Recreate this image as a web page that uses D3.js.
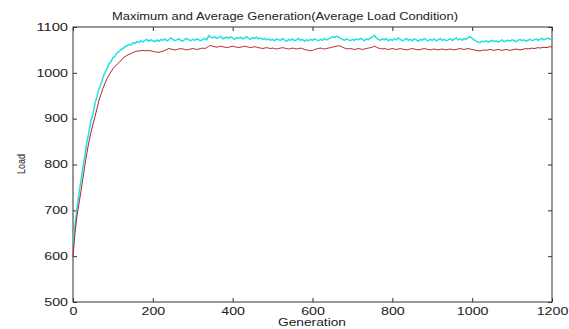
<!DOCTYPE html>
<html><head><meta charset="utf-8">
<script src="https://cdn.jsdelivr.net/npm/d3@7"></script>
<style>
html,body{margin:0;padding:0;background:#fff;}
svg{display:block;}
text{font-family:"Liberation Sans",Arial,sans-serif;fill:#222;}
</style></head>
<body>
<svg id="chart" width="569" height="329"></svg>
<script>
// ---- data (generation step 5, 0..1200) ----
const genStep = 5;
const title = "Maximum and Average Generation(Average Load Condition)";
const xLabel = "Generation";
const yLabel = "Load";
const xTicks = [0, 200, 400, 600, 800, 1000, 1200];
const yTicks = [500, 600, 700, 800, 900, 1000, 1100];

const maxLoad = [
625,668,705,738,765,796,820,850,871,896,
910,933,948,965,975,990,1001,1008,1020,1024,
1033,1036,1043,1046,1051,1053,1057,1059,1062,1060,
1066,1064,1068,1066,1070,1067,1071,1073,1069,1072,
1070,1068,1072,1069,1073,1071,1074,1070,1072,1076,
1073,1070,1072,1074,1071,1069,1073,1075,1072,1070,
1073,1071,1074,1072,1070,1073,1075,1072,1081,1078,
1076,1079,1075,1077,1080,1074,1076,1078,1075,1079,
1076,1073,1077,1075,1078,1074,1076,1079,1075,1073,
1077,1075,1078,1074,1076,1073,1075,1072,1074,1071,
1073,1070,1074,1072,1071,1075,1072,1069,1073,1071,
1074,1070,1072,1075,1071,1073,1069,1072,1070,1073,
1071,1074,1072,1070,1073,1071,1075,1072,1074,1076,
1079,1077,1080,1078,1075,1073,1071,1074,1072,1070,
1073,1071,1074,1072,1075,1073,1070,1074,1072,1076,
1078,1082,1076,1073,1071,1074,1072,1075,1070,1073,
1071,1074,1072,1076,1073,1070,1072,1075,1071,1073,
1070,1074,1072,1069,1073,1071,1075,1072,1070,1073,
1071,1074,1070,1072,1075,1071,1073,1070,1072,1074,
1071,1073,1076,1072,1074,1071,1075,1073,1077,1079,
1075,1072,1069,1067,1066,1069,1068,1070,1067,1069,
1071,1068,1070,1067,1069,1072,1068,1070,1071,1069,
1072,1070,1068,1071,1073,1070,1072,1069,1071,1073,
1070,1072,1074,1071,1073,1075,1072,1074,1076,1073,
1075];

const avgLoad = [
598,650,688,715,742,770,800,826,850,870,
888,904,922,940,953,966,977,987,995,1002,
1009,1014,1018,1022,1027,1032,1035,1038,1040,1042,
1044,1046,1047,1048,1048,1049,1048,1049,1048,1048,
1047,1046,1045,1045,1046,1047,1049,1051,1053,1052,
1051,1050,1051,1052,1053,1052,1051,1050,1051,1052,
1053,1052,1051,1052,1053,1054,1053,1055,1058,1060,
1058,1057,1056,1057,1058,1057,1056,1055,1056,1057,
1058,1057,1056,1055,1056,1057,1058,1057,1056,1055,
1056,1057,1056,1055,1054,1053,1054,1055,1054,1053,
1054,1053,1052,1053,1054,1055,1054,1053,1052,1053,
1054,1053,1052,1053,1054,1053,1051,1050,1049,1048,
1049,1051,1052,1053,1054,1053,1052,1053,1054,1055,
1056,1057,1058,1059,1058,1056,1054,1053,1052,1053,
1052,1051,1052,1053,1052,1051,1052,1053,1054,1055,
1056,1058,1056,1054,1053,1052,1053,1052,1051,1052,
1053,1052,1051,1052,1053,1052,1051,1050,1051,1052,
1053,1052,1051,1050,1051,1052,1053,1052,1051,1050,
1051,1052,1051,1050,1051,1052,1051,1050,1051,1052,
1051,1050,1051,1052,1053,1052,1051,1052,1053,1052,
1051,1050,1049,1048,1048,1049,1050,1049,1050,1051,
1050,1049,1050,1051,1050,1049,1050,1051,1050,1049,
1050,1051,1052,1051,1050,1051,1052,1053,1052,1053,
1054,1053,1054,1055,1054,1055,1056,1055,1056,1057,
1057];

// ---- layout ----
const svg = d3.select("#chart");
const L = 73, R = 552, T = 27, B = 302;
const x = d3.scaleLinear().domain([0, 1200]).range([L, R]);
const y = d3.scaleLinear().domain([500, 1100]).range([B, T]);
const digitW = 7.9;

// box
svg.append("rect").attr("x", L).attr("y", T).attr("width", R - L).attr("height", B - T)
  .attr("fill", "none").attr("stroke", "#333").attr("stroke-width", 1);

function styleAxis(g){
  g.select(".domain").remove();
  g.selectAll(".tick line").attr("stroke", "#333");
  g.selectAll("text").attr("font-size", 10).attr("fill", "#222")
    .attr("font-family", "Liberation Sans, Arial, sans-serif");
}

const gx = svg.append("g").attr("transform", `translate(0,${B})`)
  .call(d3.axisBottom(x).tickValues(xTicks).tickSize(-4).tickPadding(6).tickFormat(d3.format("d")));
styleAxis(gx);
gx.selectAll("text").each(function(d){
  const s = String(d);
  d3.select(this).attr("textLength", s.length * digitW).attr("lengthAdjust", "spacingAndGlyphs");
});

const gy = svg.append("g").attr("transform", `translate(${L},0)`)
  .call(d3.axisLeft(y).tickValues(yTicks).tickSize(-4).tickPadding(5).tickFormat(d3.format("d")));
styleAxis(gy);
gy.selectAll("text").each(function(d){
  const s = String(d);
  d3.select(this).attr("textLength", s.length * digitW).attr("lengthAdjust", "spacingAndGlyphs");
});

const gt = svg.append("g").attr("transform", `translate(0,${T})`)
  .call(d3.axisTop(x).tickValues(xTicks).tickSize(-4).tickFormat(""));
styleAxis(gt);
const gr = svg.append("g").attr("transform", `translate(${R},0)`)
  .call(d3.axisRight(y).tickValues(yTicks).tickSize(-4).tickFormat(""));
styleAxis(gr);

// lines
const line = d3.line().x((d, i) => x(i * genStep)).y(d => y(d));
svg.append("path").datum(maxLoad).attr("d", line)
  .attr("fill", "none").attr("stroke", "#22e0e0").attr("stroke-width", 1.5);
svg.append("path").datum(avgLoad).attr("d", line)
  .attr("fill", "none").attr("stroke", "#b0242c").attr("stroke-width", 1);

// labels
svg.append("text").attr("x", (112 + 458) / 2).attr("y", 19.5).attr("text-anchor", "middle")
  .attr("font-size", 10).attr("textLength", 346).attr("lengthAdjust", "spacingAndGlyphs").text(title);
svg.append("text").attr("x", 312).attr("y", 326).attr("text-anchor", "middle")
  .attr("font-size", 10).attr("textLength", 68).attr("lengthAdjust", "spacingAndGlyphs").text(xLabel);
svg.append("text").attr("transform", "translate(25,164) rotate(-90)").attr("text-anchor", "middle")
  .attr("font-size", 10).attr("textLength", 20).attr("lengthAdjust", "spacingAndGlyphs").text(yLabel);
</script>
</body></html>
